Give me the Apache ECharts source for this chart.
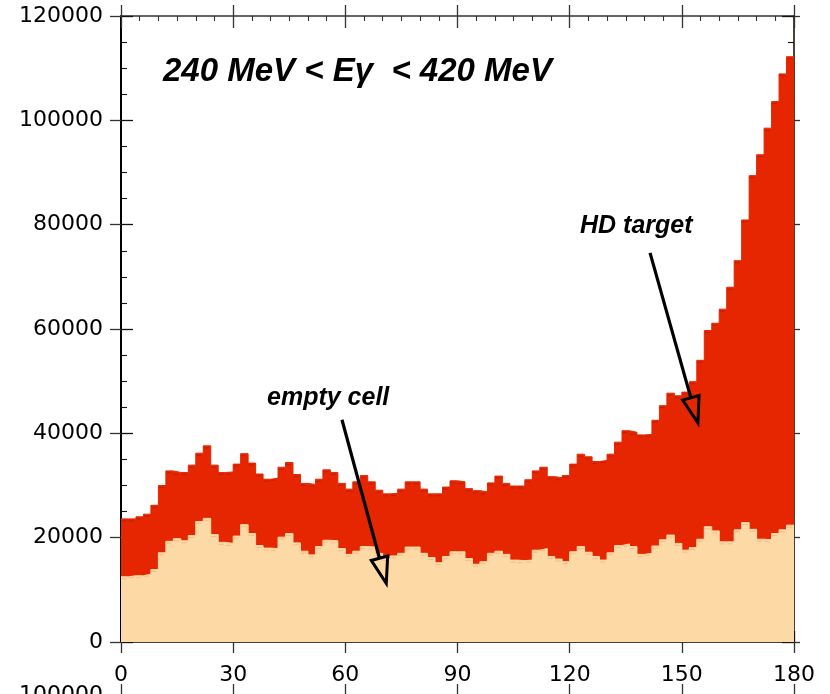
<!DOCTYPE html>
<html>
<head>
<meta charset="utf-8">
<script src="https://cdn.jsdelivr.net/npm/echarts@6/dist/echarts.min.js"></script>
<style>
html,body{margin:0;padding:0;background:#fff;}
#chart{width:830px;height:694px;}
</style>
</head>
<body>
<div id="chart"></div>
<script>
// ---- data ----
const binWidth = 2; // degrees
const xTicks = [0, 30, 60, 90, 120, 150, 180];
const yTicks = [0, 20000, 40000, 60000, 80000, 100000, 120000];
const hdTarget = [
  23600,23600,24000,24500,26200,30000,32800,32500,32500,33900,
  36200,37600,33900,32500,32600,34100,36100,34300,32200,31200,
  31400,33500,34400,32100,30400,30200,31200,33000,32500,30400,
  29300,30700,31900,30700,29100,28400,28500,29300,30700,30700,
  29300,28400,28400,29700,30900,30700,29400,29000,28800,30500,
  31800,30400,29900,29900,31100,32800,33500,31700,31500,31900,
  34100,36000,35500,34600,34800,36000,38300,40500,40200,39700,
  39800,42500,45300,47700,47200,47900,49900,54000,59700,61100,
  63800,68000,73100,80900,89400,93400,98500,103600,108900,112200
];
const emptyCell = [
  12500,12700,12700,13000,13900,17100,19300,19800,19400,20400,
  23100,23700,20600,19100,18900,20300,22500,20800,18500,18000,
  17900,20100,20800,19000,17400,16700,18300,19500,19400,17900,
  16800,17400,18300,18200,17000,16000,16500,17000,18200,18200,
  17000,16200,15200,16400,17300,17300,16000,14900,15400,17000,
  17400,16800,15700,15600,15700,17600,17900,16400,15900,15400,
  17300,18300,17200,16400,15700,17100,18500,18800,18300,16800,
  17000,18400,19600,20500,18900,17600,18100,19700,22100,21300,
  19200,19200,21500,22900,21600,19700,19600,20800,21500,22400
];
// annotation arrows in data coordinates: [x0, y0, xTip, yTip]
const arrows = [
  [141.5, 74600, 154.3, 42000],
  [59.1, 42600, 70.95, 11250]
];
const titleText = '240 MeV < E\u03b3  < 420 MeV';
const hdLabel = 'HD target';
const emptyLabel = 'empty cell';

// ---- build ----
function stepData(vals) {
  const d = vals.map((v, i) => [i * binWidth, v]);
  d.push([vals.length * binWidth, vals[vals.length - 1]]);
  return d;
}
function capData(vals) { return vals.map((v, i) => [i * binWidth, v]); }

const RED = '#e52600';
const PEACH = '#fdd9a5';
const LABEL_FONT = 'DejaVu Sans';
const xMin = xTicks[0], xMax = xTicks[xTicks.length - 1];
const xInt = xTicks[1] - xTicks[0];
const yMin = yTicks[0], yMax = yTicks[yTicks.length - 1];
const yInt = yTicks[1] - yTicks[0];

function xAx(o) {
  return Object.assign({
    type: 'value', gridIndex: 0, min: xMin, max: xMax, interval: xInt,
    axisLine: { show: false, onZero: false, lineStyle: { color: '#000', width: 1.5 } },
    axisTick: { show: true, inside: true, length: 11, lineStyle: { color: '#111', width: 1.3 } },
    minorTick: { show: false },
    axisLabel: { show: false },
    splitLine: { show: false }
  }, o);
}
function yAx(o) {
  return Object.assign({
    type: 'value', gridIndex: 0, min: yMin, max: yMax, interval: yInt,
    axisLine: { show: false, onZero: false, lineStyle: { color: '#000', width: 1.5 } },
    axisTick: { show: true, inside: true, length: 12, lineStyle: { color: '#111', width: 1.3 } },
    minorTick: { show: false },
    axisLabel: { show: false },
    splitLine: { show: false }
  }, o);
}
const labelStyle = { show: true, fontFamily: LABEL_FONT, fontSize: 22, color: '#000',
  formatter: function (v) { return String(v); } };

const chart = echarts.init(document.getElementById('chart'), null, { renderer: 'canvas' });

function capSeries(vals, color) {
  return {
    type: 'custom', xAxisIndex: 0, yAxisIndex: 0, z: 6, silent: true,
    data: capData(vals),
    renderItem: function (params, api) {
      const x = api.value(0), v = api.value(1);
      const p1 = api.coord([x + 0.1, v]);
      const p2 = api.coord([x + 1.5, v]);
      return { type: 'line', shape: { x1: p1[0], y1: p1[1] + 2, x2: p2[0], y2: p2[1] + 2 },
        style: { stroke: color, lineWidth: 1 } };
    }
  };
}

const option = {
  animation: false,
  backgroundColor: '#fff',
  grid: [
    { left: 121, right: 36, top: 16, bottom: 52, outerBoundsMode: 'none', containLabel: false },
    { left: 121, right: 36, top: 695, height: 400, outerBoundsMode: 'none', containLabel: false }
  ],
  xAxis: [
    xAx({ position: 'bottom', axisLine: { show: true, onZero: false, lineStyle: { color: '#000', width: 1.5 } },
      minorTick: { show: true, splitNumber: 6, length: 5, lineStyle: { color: '#111', width: 1.1 } },
      axisLabel: Object.assign({ margin: 22 }, labelStyle) }),
    xAx({ position: 'bottom', axisTick: { show: true, inside: false, length: 11, lineStyle: { color: '#333', width: 1.3 } } }),
    xAx({ position: 'top', axisLine: { show: true, onZero: false, lineStyle: { color: '#333', width: 1.5 } },
      axisTick: { show: true, inside: true, length: 12, lineStyle: { color: '#333', width: 1.3 } },
      minorTick: { show: true, splitNumber: 6, length: 5, lineStyle: { color: '#333', width: 1.1 } } }),
    xAx({ position: 'top', axisTick: { show: true, inside: false, length: 11, lineStyle: { color: '#333', width: 1.3 } } }),
    xAx({ gridIndex: 1, position: 'top', axisLine: { show: true, onZero: false, lineStyle: { color: '#333', width: 1.5 } },
      axisTick: { show: true, inside: false, length: 11, lineStyle: { color: '#333', width: 1.3 } } })
  ],
  yAxis: [
    yAx({ position: 'left', axisLine: { show: true, onZero: false, lineStyle: { color: '#000', width: 2 } },
      minorTick: { show: true, splitNumber: 4, length: 6, lineStyle: { color: '#111', width: 1.1 } },
      axisLabel: Object.assign({ margin: 18 }, labelStyle) }),
    yAx({ position: 'left', axisTick: { show: true, inside: false, length: 11, lineStyle: { color: '#333', width: 1.3 } } }),
    yAx({ position: 'right', axisLine: { show: true, onZero: false, lineStyle: { color: '#3a2a20', width: 1.8 } },
      minorTick: { show: true, splitNumber: 4, length: 6, lineStyle: { color: '#111', width: 1.1 } } }),
    yAx({ position: 'right', axisTick: { show: true, inside: false, length: 6, lineStyle: { color: '#333', width: 1.3 } } }),
    yAx({ gridIndex: 1, position: 'left', max: 100000,
      axisLine: { show: true, onZero: false, lineStyle: { color: '#000', width: 2 } },
      axisTick: { show: true, inside: false, length: 11, lineStyle: { color: '#333', width: 1.3 } },
      axisLabel: Object.assign({ margin: 18 }, labelStyle) })
  ],
  series: [
    {
      name: 'HD target', type: 'line', xAxisIndex: 0, yAxisIndex: 0, step: 'end',
      data: stepData(hdTarget), showSymbol: false, symbol: 'none', z: 2,
      lineStyle: { color: RED, width: 1 }, areaStyle: { color: RED, opacity: 1, origin: 'start' }
    },
    capSeries(hdTarget, 'rgba(150,25,0,0.45)'),
    {
      name: 'empty cell', type: 'line', xAxisIndex: 0, yAxisIndex: 0, step: 'end',
      data: stepData(emptyCell), showSymbol: false, symbol: 'none', z: 3,
      lineStyle: { color: PEACH, width: 1 }, areaStyle: { color: PEACH, opacity: 1, origin: 'start' }
    },
    capSeries(emptyCell, 'rgba(240,150,110,0.45)'),
    {
      type: 'custom', xAxisIndex: 0, yAxisIndex: 0, z: 10, silent: true, clip: false,
      data: arrows,
      renderItem: function (params, api) {
        const p0 = api.coord([api.value(0), api.value(1)]);
        const tip = api.coord([api.value(2), api.value(3)]);
        const dx = tip[0] - p0[0], dy = tip[1] - p0[1];
        const len = Math.sqrt(dx * dx + dy * dy);
        const ux = dx / len, uy = dy / len;
        const nx = -uy, ny = ux;
        const L = 26, W = 8.5;
        const bx = tip[0] - L * ux, by = tip[1] - L * uy;
        return {
          type: 'group',
          children: [
            { type: 'line', shape: { x1: p0[0], y1: p0[1], x2: bx, y2: by },
              style: { stroke: '#000', lineWidth: 3.2 } },
            { type: 'polygon', shape: { points: [[tip[0], tip[1]], [bx + W * nx, by + W * ny], [bx - W * nx, by - W * ny]] },
              style: { fill: 'none', stroke: '#000', lineWidth: 3, lineJoin: 'miter' } }
          ]
        };
      }
    }
  ],
  graphic: [
    { type: 'text', left: 163, top: 55, z: 20,
      style: { text: titleText, font: 'italic bold 33px "Liberation Sans", Arial, sans-serif', fill: '#000' } },
    { type: 'text', left: 580, top: 214, z: 20,
      style: { text: hdLabel, font: 'italic bold 25px "Liberation Sans", Arial, sans-serif', fill: '#000' } },
    { type: 'text', left: 267, top: 386, z: 20,
      style: { text: emptyLabel, font: 'italic bold 25px "Liberation Sans", Arial, sans-serif', fill: '#000' } }
  ]
};
chart.setOption(option);
</script>
</body>
</html>
